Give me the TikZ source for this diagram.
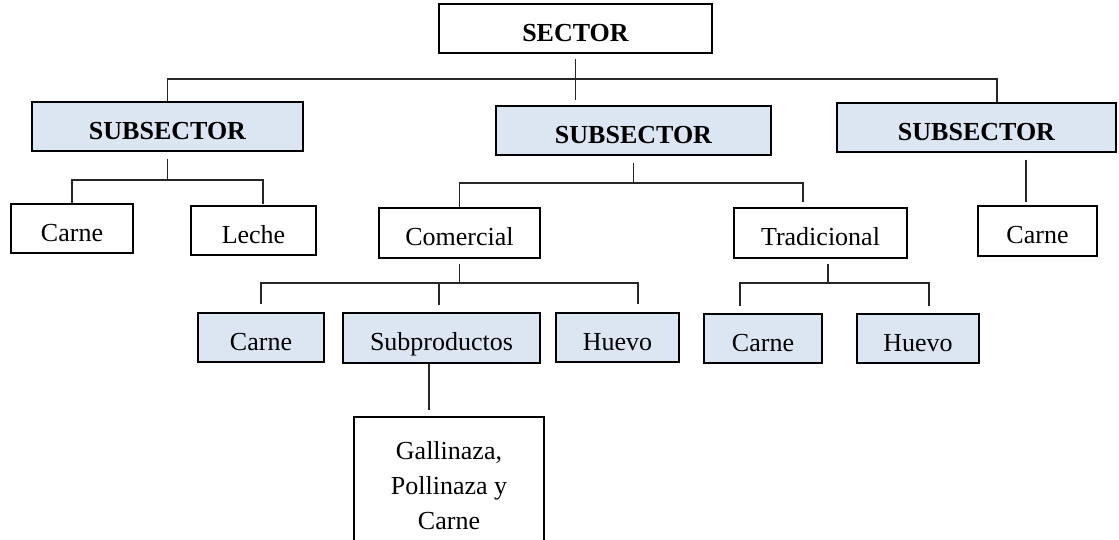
\documentclass[tikz,border=0pt]{standalone}
\usepackage{fontspec}
\setmainfont{Liberation Serif}
\definecolor{subblue}{RGB}{220,230,242}
\begin{document}
\begin{tikzpicture}[
  x=0.5pt, y=-0.5pt,
  box/.style={rectangle, draw, line width=1pt, inner sep=0pt, minimum height=24.5pt, align=center, text height=12.6pt, text depth=0pt, font=\fontsize{13}{17.5}\selectfont},
  headbox/.style={box, font=\fontsize{13}{17.5}\selectfont\bfseries},
  subbox/.style={headbox, fill=subblue},
  itembox/.style={box, fill=subblue},
  notebox/.style={rectangle, draw, line width=1pt, inner sep=0pt, align=center, font=\fontsize{13}{17.5}\selectfont},
  link/.style={line width=0.6pt, black!85}
]
\useasboundingbox (0,0) rectangle (1119,540);
\clip (0,0) rectangle (1119,540);

% top levels
\node[headbox, minimum width=136.5pt] (sector) at (575.5,28.5) {SECTOR};
\node[subbox, minimum width=135.5pt] (subL) at (167.5,126.5) {SUBSECTOR};
\node[subbox, minimum width=137.5pt] (subM) at (633.5,130.5) {SUBSECTOR};
\node[subbox, minimum width=139.5pt] (subR) at (976.5,127.5) {SUBSECTOR};

% second level
\node[box, minimum width=61pt] (carneL) at (72,228.5) {Carne};
\node[box, minimum width=62.5pt] (leche) at (253.5,230.5) {Leche};
\node[box, minimum width=80.5pt, minimum height=25pt] (comercial) at (459.5,233) {Comercial};
\node[box, minimum width=86.5pt, minimum height=25pt] (tradicional) at (820.5,233) {Tradicional};
\node[box, minimum width=59.5pt, minimum height=25pt] (carneR) at (1037.5,231) {Carne};

% third level
\node[itembox, minimum width=63pt] (carneC) at (261,337.5) {Carne};
\node[itembox, minimum width=98.5pt, minimum height=25pt] (subprod) at (441.5,338) {Subproductos};
\node[itembox, minimum width=61.5pt] (huevoC) at (617.5,337.5) {Huevo};
\node[itembox, minimum width=59pt] (carneT) at (763,338.5) {Carne};
\node[itembox, minimum width=61pt] (huevoT) at (918,338.5) {Huevo};
\node[notebox, minimum width=95pt, minimum height=69pt] (galli) at (449,486) {Gallinaza,\\Pollinaza y\\Carne};

% bus points
\coordinate (rTop) at (997,79);
\coordinate (dLeche) at (263,180);
\coordinate (dTrad) at (803,183);
\coordinate (dCarneR) at (1026,0);
\coordinate (dHuevoC) at (638,283);
\coordinate (dSub) at (439,283);
\coordinate (tL) at (740,283);
\coordinate (tM) at (828,283);
\coordinate (tR) at (929,283);
\coordinate (dGal) at (429,0);

% connectors
\draw[link, shorten <=2.5pt, shorten >=2.5pt] (sector) -- (sector.south |- subM.north);
\draw[link] (subL.north) |- (rTop) -- (rTop |- subR.north);
\draw[link, shorten <=3.5pt] (subL.south) -- (subL.south |- dLeche);
\draw[link, shorten >=0.5pt] (carneL.north) |- (dLeche) -- (dLeche |- leche.north);
\draw[link, shorten <=3.5pt] (subM.south) -- (subM.south |- dTrad);
\draw[link, shorten >=2.5pt] (comercial.north) |- (dTrad) -- (dTrad |- tradicional.north);
\draw[link, shorten <=3.5pt, shorten >=1.5pt] (dCarneR |- subR.south) -- (dCarneR |- carneR.north);
\draw[link, shorten <=2.5pt] (comercial.south) -- (comercial.south |- dHuevoC);
\draw[link, shorten <=4pt, shorten >=4pt] (carneC.north) |- (dHuevoC) -- (dHuevoC |- huevoC.north);
\draw[link, shorten >=3.5pt] (dSub) -- (dSub |- subprod.north);
\draw[link, shorten <=2.5pt] (tM |- tradicional.south) -- (tM);
\draw[link, shorten <=3.5pt, shorten >=3.5pt] (tL |- carneT.north) -- (tL) -- (tR) -- (tR |- huevoT.north);
\draw[link, shorten >=3pt] (dGal |- subprod.south) -- (dGal |- galli.north);
\end{tikzpicture}
\end{document}
